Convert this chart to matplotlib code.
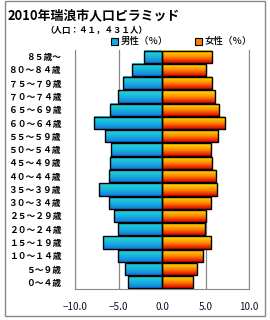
import numpy as np
import matplotlib
matplotlib.use('Agg')
import matplotlib.pyplot as plt
from matplotlib.colors import LinearSegmentedColormap
from matplotlib.patches import Rectangle

plt.rcParams['font.family'] = ['Noto Sans CJK JP', 'DejaVu Sans']

# age groups, bottom to top
ages = ['０～４歳', '５～９歳', '１０～１４歳', '１５～１９歳', '２０～２４歳', '２５～２９歳',
        '３０～３４歳', '３５～３９歳', '４０～４４歳', '４５～４９歳', '５０～５４歳', '５５～５９歳',
        '６０～６４歳', '６５～６９歳', '７０～７４歳', '７５～７９歳', '８０～８４歳', '８５歳～']
male = [3.9, 4.2, 5.1, 6.8, 5.1, 5.5, 6.1, 7.2, 6.1, 6.0, 5.9, 6.6, 7.8, 6.0, 5.1, 4.5, 3.5, 2.1]
female = [3.6, 4.0, 4.7, 5.6, 4.9, 5.1, 5.6, 6.3, 6.2, 5.7, 5.6, 6.4, 7.2, 6.5, 6.1, 5.7, 5.1, 5.7]
xticks = [-10, -5, 0, 5, 10]
xticklabels = ['−10.0', '−5.0', '0.0', '5.0', '10.0']

male_cmap = LinearSegmentedColormap.from_list('m', ['#28d4d8', '#18b8dc', '#1478e0'])
female_cmap = LinearSegmentedColormap.from_list('f', ['#ffe800', '#ff9000', '#e00000'])
grad = np.linspace(0, 1, 64).reshape(-1, 1)

fig = plt.figure(figsize=(2.7, 3.2), dpi=100)
ax = fig.add_axes([75 / 270, 1 - 289 / 320, 174 / 270, 239 / 320])

y = np.arange(len(ages))
mb = ax.barh(y, [-v for v in male], height=0.92, facecolor='none', edgecolor='black', linewidth=1.0, zorder=3)
fb = ax.barh(y, female, height=0.92, facecolor='none', edgecolor='black', linewidth=1.0, zorder=3)

# gradient fill inside each bar
for bars, cmap in ((mb, male_cmap), (fb, female_cmap)):
    for p in bars.patches:
        x0, y0 = p.get_x(), p.get_y()
        x1, y1 = x0 + p.get_width(), y0 + p.get_height()
        ax.imshow(grad, cmap=cmap, extent=(min(x0, x1), max(x0, x1), y0, y1),
                  origin='upper', aspect='auto', zorder=2, interpolation='bilinear')

ax.set_xlim(-10, 10)
ax.set_ylim(-0.5, len(ages) - 0.5)
ax.set_xticks(xticks)
ax.set_xticklabels(xticklabels, fontsize=7.2, color='#101030')
ax.set_yticks(y)
ax.set_yticklabels(ages, fontsize=6.3, fontweight='bold')
ax.tick_params(length=0, pad=9)
ax.tick_params(axis='y', pad=10)
ax.grid(axis='x', color='#888888', linewidth=0.9, zorder=0)
ax.set_axisbelow(True)
for s in ['left', 'right', 'bottom']:
    ax.spines[s].set_color('#888888')
ax.spines['top'].set_visible(False)

# titles
fig.text(8 / 270, 1 - 15 / 320, '2010年瑞浪市人口ピラミッド', fontsize=9.3, fontweight='bold', va='center')
fig.text(45 / 270, 1 - 30 / 320, '（人口：４１，４３１人）', fontsize=6.1, fontweight='bold', va='center')

# legend
for x0, c, lab in ((111, '#18a8dc', '男性（％）'), (195, '#ff8000', '女性（％）')):
    fig.add_artist(Rectangle((x0 / 270, 1 - 45 / 320), 7 / 270, 7 / 320, transform=fig.transFigure,
                             facecolor=c, edgecolor='black', linewidth=0.8))
    fig.text((x0 + 10) / 270, 1 - 41 / 320, lab, fontsize=6.8, fontweight='medium', va='center')

# outer frame
fig.add_artist(Rectangle((5 / 270, 4 / 320), 260 / 270, 315 / 320, transform=fig.transFigure,
                         fill=False, edgecolor='#888888', linewidth=1.0))

fig.savefig('out.png', dpi=100)
